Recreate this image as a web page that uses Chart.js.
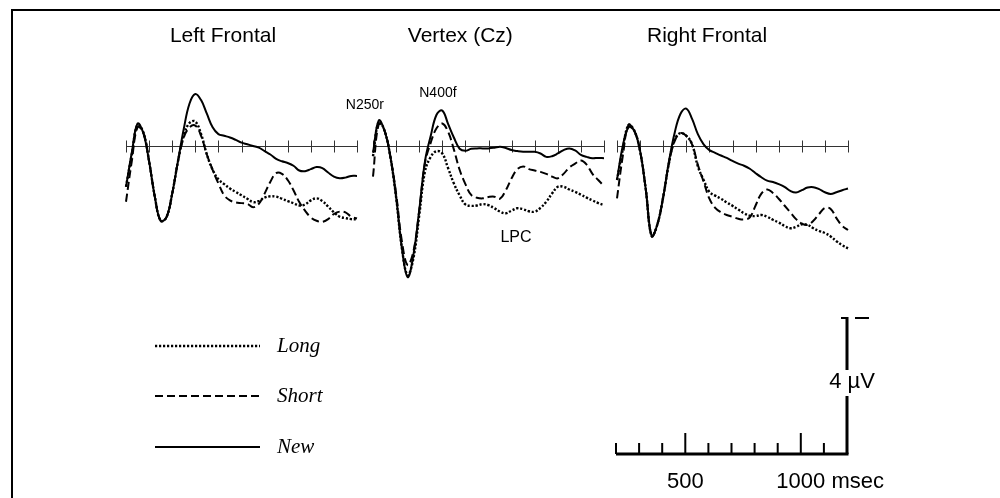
<!DOCTYPE html>
<html>
<head>
<meta charset="utf-8">
<title>ERP waveforms</title>
<script src="https://cdn.jsdelivr.net/npm/chart.js@4.4.1/dist/chart.umd.min.js"></script>
<style>
  body { margin: 0; background: #fff; }
  #page { position: relative; width: 1000px; height: 498px; overflow: hidden; background: #fff; }
  #frame { position: absolute; left: 11px; top: 9px; width: 1000px; height: 500px;
           border-left: 2px solid #000; border-top: 2px solid #000; }
  canvas { position: absolute; }
</style>
</head>
<body>
<div id="page">
  <div id="frame"></div>
  <canvas id="leftChart" width="291" height="306" style="left:96px;top:10px"></canvas>
  <canvas id="vertexChart" width="291" height="306" style="left:343px;top:10px"></canvas>
  <canvas id="rightChart" width="291" height="306" style="left:587px;top:10px"></canvas>
  <canvas id="scaleChart" width="1000" height="198" style="left:0px;top:300px"></canvas>
</div>
<script>
// time in ms, amplitude in microvolts (negative plotted up)
var times = [0, 25, 50, 75, 100, 125, 150, 175, 200, 225, 250, 275, 300, 325, 350, 375, 400, 425, 450, 475,
  500, 525, 550, 575, 600, 625, 650, 675, 700, 725, 750, 775, 800, 825, 850, 875, 900, 925, 950, 975, 1000];
var timeTicks = [0, 100, 200, 300, 400, 500, 600, 700, 800, 900, 1000];

var seriesNames = ["Long", "Short", "New"];
var panelTitles = ["Left Frontal", "Vertex (Cz)", "Right Frontal"];

var leftLong = [1.2, 0.25, -0.62, -0.4, 0.45, 1.5, 2.2, 2.1, 1.4, 0.45, -0.3, -0.68, -0.72, -0.35, 0.25, 0.7, 0.98, 1.12, 1.25, 1.35,
  1.45, 1.55, 1.65, 1.62, 1.52, 1.48, 1.49, 1.55, 1.62, 1.68, 1.75, 1.72, 1.6, 1.54, 1.62, 1.78, 1.95, 2.08, 2.12, 2.15, 2.16];
var leftShort = [1.64, 0.45, -0.55, -0.4, 0.45, 1.5, 2.2, 2.1, 1.4, 0.45, -0.25, -0.55, -0.6, -0.3, 0.25, 0.7, 1.1, 1.45, 1.6, 1.66,
  1.68, 1.7, 1.8, 1.7, 1.4, 1.05, 0.8, 0.82, 1.0, 1.3, 1.65, 1.9, 2.1, 2.2, 2.23, 2.15, 2.0, 1.93, 1.95, 2.08, 2.13];
var leftNew = [1.2, 0.2, -0.66, -0.38, 0.45, 1.5, 2.2, 2.1, 1.4, 0.45, -0.5, -1.25, -1.53, -1.35, -0.95, -0.55, -0.35, -0.3, -0.25, -0.18,
  -0.1, -0.05, 0.0, 0.05, 0.15, 0.25, 0.38, 0.45, 0.5, 0.58, 0.72, 0.74, 0.68, 0.62, 0.65, 0.78, 0.9, 0.95, 0.93, 0.88, 0.88];

var vertexLong = [0.3, -0.7, -0.45, 0.32, 1.5, 3.0, 3.8, 3.3, 2.05, 0.75, 0.32, 0.15, 0.22, 0.65, 1.1, 1.45, 1.72, 1.76, 1.75, 1.71,
  1.74, 1.83, 1.93, 1.98, 1.9, 1.83, 1.86, 1.92, 1.93, 1.82, 1.64, 1.4, 1.2, 1.2, 1.28, 1.35, 1.43, 1.52, 1.6, 1.68, 1.74];
var vertexShort = [0.9, -0.65, -0.45, 0.3, 1.4, 2.8, 3.5, 3.1, 1.9, 0.5, -0.1, -0.52, -0.66, -0.42, 0.1, 0.7, 1.12, 1.44, 1.52, 1.54,
  1.5, 1.49, 1.55, 1.3, 0.95, 0.68, 0.6, 0.68, 0.72, 0.76, 0.82, 0.9, 0.95, 0.82, 0.63, 0.52, 0.43, 0.55, 0.82, 1.0, 1.18];
var vertexNew = [0.2, -0.75, -0.45, 0.3, 1.5, 3.0, 3.86, 3.2, 1.9, 0.45, -0.3, -0.92, -1.04, -0.65, -0.25, 0.08, 0.14, 0.08, 0.07, 0.07,
  0.07, 0.05, 0.02, 0.06, 0.12, 0.15, 0.17, 0.17, 0.17, 0.22, 0.32, 0.3, 0.22, 0.12, 0.07, 0.13, 0.26, 0.32, 0.36, 0.35, 0.36];

var rightLong = [1.0, 0.1, -0.62, -0.45, 0.15, 1.3, 2.65, 2.3, 1.5, 0.5, -0.2, -0.38, -0.3, -0.05, 0.6, 1.0, 1.35, 1.46, 1.55, 1.66,
  1.76, 1.87, 1.98, 2.05, 2.06, 2.03, 2.08, 2.17, 2.25, 2.35, 2.42, 2.38, 2.3, 2.32, 2.42, 2.5, 2.56, 2.66, 2.8, 2.92, 3.01];
var rightShort = [1.54, 0.3, -0.62, -0.45, 0.15, 1.3, 2.65, 2.3, 1.5, 0.5, -0.15, -0.38, -0.3, -0.05, 0.55, 1.05, 1.55, 1.82, 1.95, 2.03,
  2.08, 2.14, 2.16, 2.1, 1.75, 1.4, 1.28, 1.38, 1.55, 1.75, 1.95, 2.15, 2.28, 2.32, 2.2, 2.0, 1.82, 1.85, 2.12, 2.35, 2.47];
var rightNew = [1.0, 0.0, -0.55, -0.45, 0.15, 1.3, 2.65, 2.3, 1.5, 0.45, -0.4, -0.95, -1.1, -0.8, -0.35, -0.05, 0.12, 0.2, 0.28, 0.35,
  0.44, 0.52, 0.58, 0.67, 0.8, 0.92, 1.02, 1.06, 1.12, 1.2, 1.32, 1.37, 1.3, 1.22, 1.21, 1.27, 1.36, 1.41, 1.36, 1.3, 1.25];

// calibration bar
var barTimes = [200, 300, 400, 500, 600, 700, 800, 900, 1000, 1100, 1200];
var barMajor = [500, 1000];
var barLabels = ["500", "1000 msec"];
var barMicroVolts = 4;

var lineDashes = [[2.2, 1.8], [8, 4], []];
var lineWidths = [2.4, 2, 2];
var sansFont = "'Liberation Sans', Arial, sans-serif";

var panelDecor = {
  id: 'panelDecor',
  beforeDatasetsDraw: function (chart, args, opts) {
    var ctx = chart.ctx, x = chart.scales.x, y = chart.scales.y;
    var y0 = Math.round(y.getPixelForValue(0)) + 0.5;
    ctx.save();
    ctx.strokeStyle = '#333';
    ctx.lineWidth = 1;
    ctx.beginPath();
    ctx.moveTo(x.getPixelForValue(timeTicks[0]), y0);
    ctx.lineTo(x.getPixelForValue(timeTicks[timeTicks.length - 1]), y0);
    timeTicks.forEach(function (t) {
      var px = Math.round(x.getPixelForValue(t)) + 0.5;
      ctx.moveTo(px, y0 - 6);
      ctx.lineTo(px, y0 + 6);
    });
    ctx.stroke();
    ctx.restore();
  },
  afterDatasetsDraw: function (chart, args, opts) {
    var ctx = chart.ctx, x = chart.scales.x, y = chart.scales.y;
    ctx.save();
    ctx.fillStyle = '#000';
    ctx.textAlign = 'center';
    ctx.textBaseline = 'middle';
    ctx.font = '21px ' + sansFont;
    ctx.fillText(opts.title, x.getPixelForValue(opts.titleAt), y.getPixelForValue(-3.24));
    (opts.notes || []).forEach(function (n) {
      ctx.font = n.size + 'px ' + sansFont;
      ctx.fillText(n.text, x.getPixelForValue(n.t), y.getPixelForValue(n.v));
    });
    ctx.restore();
  }
};

function makePanel(id, title, titleAt, longVals, shortVals, newVals, notes) {
  var values = [longVals, shortVals, newVals];
  var datasets = seriesNames.map(function (name, i) {
    return {
      label: name,
      data: times.map(function (t, k) { return { x: t, y: values[i][k] }; }),
      borderColor: '#000',
      borderWidth: lineWidths[i],
      borderDash: lineDashes[i],
      pointRadius: 0,
      tension: 0.4,
      fill: false,
      clip: false
    };
  });
  return new Chart(document.getElementById(id), {
    type: 'line',
    data: { datasets: datasets },
    options: {
      responsive: false,
      animation: false,
      events: [],
      layout: { padding: { left: 30, right: 30, top: 0, bottom: 0 } },
      scales: {
        x: { type: 'linear', min: 0, max: 1000, display: false },
        y: { type: 'linear', min: -4, max: 5, reverse: true, display: false }
      },
      plugins: {
        legend: { display: false },
        tooltip: { enabled: false },
        panelDecor: { title: title, titleAt: titleAt, notes: notes }
      }
    },
    plugins: [panelDecor]
  });
}

makePanel('leftChart', panelTitles[0], 420, leftLong, leftShort, leftNew, []);
makePanel('vertexChart', panelTitles[1], 378, vertexLong, vertexShort, vertexNew, [
  { text: 'N250r', t: -35, v: -1.21, size: 14 },
  { text: 'N400f', t: 281, v: -1.56, size: 14 },
  { text: 'LPC', t: 619, v: 2.69, size: 16 }
]);
makePanel('rightChart', panelTitles[2], 390, rightLong, rightShort, rightNew, []);

var scaleDecor = {
  id: 'scaleDecor',
  afterDraw: function (chart) {
    var ctx = chart.ctx, x = chart.scales.x, y = chart.scales.y;
    var xl = x.getPixelForValue(barTimes[0]);
    var xr = x.getPixelForValue(barTimes[barTimes.length - 1]);
    var yb = y.getPixelForValue(0);
    var yt = y.getPixelForValue(-barMicroVolts);
    var yLab = y.getPixelForValue(-2.12);
    ctx.save();
    ctx.strokeStyle = '#000';
    ctx.fillStyle = '#000';
    // time bar
    ctx.lineWidth = 3;
    ctx.beginPath();
    ctx.moveTo(xl, yb);
    ctx.lineTo(xr + 1.5, yb);
    ctx.stroke();
    ctx.lineWidth = 2;
    ctx.beginPath();
    barTimes.forEach(function (t) {
      var px = x.getPixelForValue(t);
      var len = barMajor.indexOf(t) >= 0 ? 21 : 11;
      ctx.moveTo(px, yb);
      ctx.lineTo(px, yb - len);
    });
    ctx.stroke();
    // voltage bar with a gap for its label
    ctx.lineWidth = 3;
    ctx.beginPath();
    ctx.moveTo(xr, yb);
    ctx.lineTo(xr, yLab + 14);
    ctx.moveTo(xr, yLab - 12);
    ctx.lineTo(xr, yt - 1);
    ctx.stroke();
    ctx.lineWidth = 2;
    ctx.beginPath();
    ctx.moveTo(xr - 6, yt);
    ctx.lineTo(xr, yt);
    ctx.moveTo(xr + 8, yt);
    ctx.lineTo(xr + 22, yt);
    ctx.stroke();
    // labels
    ctx.font = '22px ' + sansFont;
    ctx.textBaseline = 'middle';
    ctx.textAlign = 'center';
    ctx.fillText('4 \u00b5V', xr + 5, yLab);
    ctx.textAlign = 'left';
    barMajor.forEach(function (t, i) {
      var num = String(t);
      var w = ctx.measureText(num).width;
      ctx.fillText(barLabels[i], x.getPixelForValue(t) - w / 2, yb + 28);
    });
    ctx.restore();
  }
};

var legendDecor = {
  id: 'legendDecor',
  afterDraw: function (chart) {
    var ctx = chart.ctx;
    var rows = [46, 96, 147];
    ctx.save();
    ctx.strokeStyle = '#000';
    ctx.fillStyle = '#000';
    ctx.font = 'italic 21px "Liberation Serif", "Times New Roman", serif';
    ctx.textBaseline = 'middle';
    seriesNames.forEach(function (name, i) {
      ctx.lineWidth = lineWidths[i];
      ctx.setLineDash(lineDashes[i]);
      ctx.beginPath();
      ctx.moveTo(155, rows[i]);
      ctx.lineTo(260, rows[i]);
      ctx.stroke();
      ctx.fillText(name, 277, rows[i]);
    });
    ctx.restore();
  }
};

new Chart(document.getElementById('scaleChart'), {
  type: 'line',
  data: { datasets: [] },
  options: {
    responsive: false,
    animation: false,
    events: [],
    layout: { padding: { left: 616, right: 153, top: 18, bottom: 44 } },
    scales: {
      x: { type: 'linear', min: barTimes[0], max: barTimes[barTimes.length - 1], display: false },
      y: { type: 'linear', min: -barMicroVolts, max: 0, reverse: true, display: false }
    },
    plugins: { legend: { display: false }, tooltip: { enabled: false } }
  },
  plugins: [scaleDecor, legendDecor]
});
</script>
</body>
</html>
